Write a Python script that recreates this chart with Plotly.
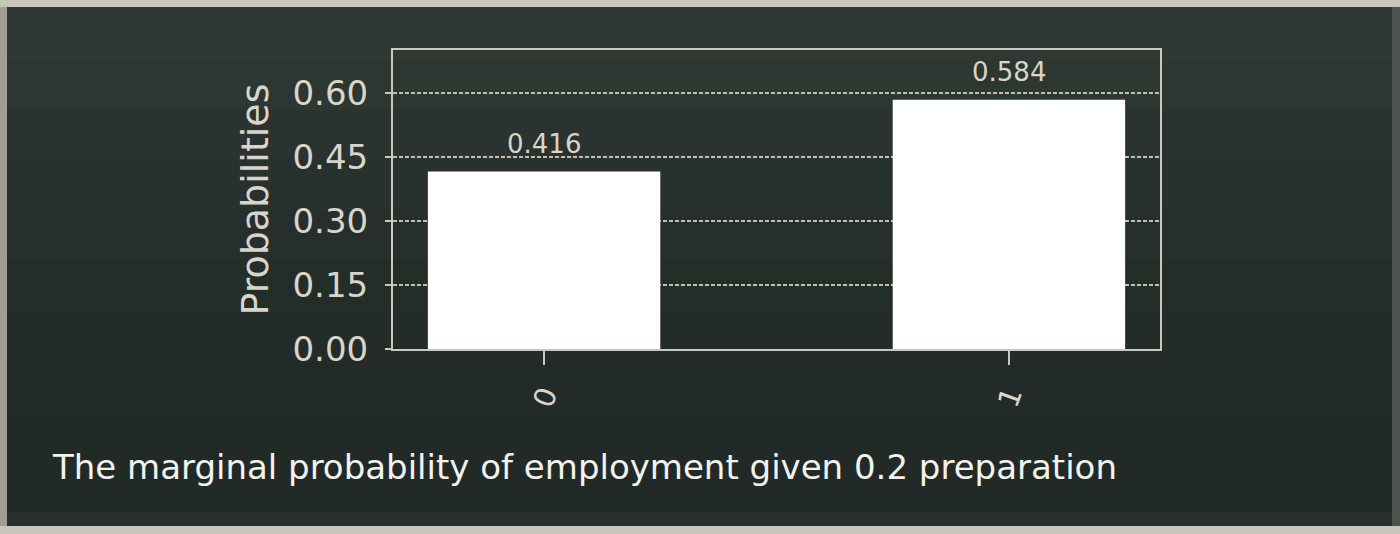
import plotly.graph_objects as go

# ---- data ----
categories = ["0", "1"]
probabilities = [0.416, 0.584]
bar_labels = ["0.416", "0.584"]
y_tick_values = [0.0, 0.15, 0.30, 0.45, 0.60]
y_tick_labels = ["0.00", "0.15", "0.30", "0.45", "0.60"]
y_axis_title = "Probabilities"
caption = "The marginal probability of employment given 0.2 preparation"

W, H = 1400, 534
L, R, T, B = 393, 240, 50, 185
PW, PH = W - L - R, H - T - B

def px_x(px):
    return (px - L) / PW

def px_y(py):
    return (H - B - py) / PH

TXT = "#d9d5ca"
LINE = "#cdc8bd"
FONT = "DejaVu Sans"

fig = go.Figure()
fig.add_trace(go.Bar(
    x=categories, y=probabilities, width=0.5,
    marker=dict(color="#ffffff", line=dict(width=0)),
    hoverinfo="skip",
))

annotations = []
for c, v, lab in zip(categories, probabilities, bar_labels):
    annotations.append(dict(
        x=c, y=v, xref="x", yref="y", text=lab, showarrow=False,
        yanchor="bottom", yshift=11, font=dict(family=FONT, size=26, color=TXT),
    ))

annotations.append(dict(
    x=px_x(50), y=px_y(467), xref="paper", yref="paper", text=caption,
    showarrow=False, xanchor="left", yanchor="middle",
    font=dict(family=FONT, size=34, color="#f3f3ee"),
))

shapes = []
# chalkboard shading (lighter at the top)
bands = [
    (7, 60, 0.55), (60, 110, 0.45), (110, 160, 0.36), (160, 210, 0.28),
    (210, 260, 0.20), (260, 310, 0.14), (310, 360, 0.09), (360, 410, 0.05),
]
for y0, y1, op in bands:
    shapes.append(dict(type="rect", xref="paper", yref="paper", layer="below",
                       x0=px_x(0), x1=px_x(W), y0=px_y(y1), y1=px_y(y0),
                       fillcolor="#3a4640", opacity=op, line=dict(width=0)))
shapes.append(dict(type="rect", xref="paper", yref="paper", layer="below",
                   x0=px_x(0), x1=px_x(W), y0=px_y(526), y1=px_y(512),
                   fillcolor="#3a4640", opacity=0.2, line=dict(width=0)))
# frame strips
shapes += [
    dict(type="rect", xref="paper", yref="paper", layer="above",
         x0=px_x(0), x1=px_x(W), y0=px_y(7), y1=px_y(0),
         fillcolor="#c9c5bb", line=dict(width=0)),
    dict(type="rect", xref="paper", yref="paper", layer="above",
         x0=px_x(0), x1=px_x(W), y0=px_y(H), y1=px_y(526),
         fillcolor="#c9c5bc", line=dict(width=0)),
    dict(type="rect", xref="paper", yref="paper", layer="above",
         x0=px_x(0), x1=px_x(7), y0=px_y(526), y1=px_y(7),
         fillcolor="#a19d93", line=dict(width=0)),
    dict(type="rect", xref="paper", yref="paper", layer="above",
         x0=px_x(1392), x1=px_x(W), y0=px_y(526), y1=px_y(7),
         fillcolor="#4d544f", line=dict(width=0)),
]

fig.update_layout(
    width=W, height=H,
    margin=dict(l=L, r=R, t=T, b=B, autoexpand=False),
    paper_bgcolor="#212a26", plot_bgcolor="rgba(0,0,0,0)",
    showlegend=False, bargap=0.5,
    annotations=annotations, shapes=shapes,
    font=dict(family=FONT, color=TXT),
)
fig.update_xaxes(
    type="category", range=[-0.325, 1.325], tickangle=-70,
    tickfont=dict(family=FONT, size=29, color=TXT),
    ticks="outside", ticklen=14, tickwidth=2, tickcolor=LINE,
    ticklabelstandoff=2,
    showline=True, linecolor=LINE, linewidth=2, mirror=True,
    showgrid=False, zeroline=False, automargin=False,
)
fig.update_yaxes(
    range=[0, 0.7008], tickvals=y_tick_values, ticktext=y_tick_labels,
    tickfont=dict(family=FONT, size=34, color=TXT),
    ticks="outside", ticklen=6, tickwidth=2, tickcolor=LINE,
    ticklabelstandoff=10,
    showline=True, linecolor=LINE, linewidth=2, mirror=True,
    showgrid=True, gridcolor="#c4bfb3", gridwidth=2, griddash="4px,2px",
    zeroline=False, automargin=False,
    title=dict(text=y_axis_title, font=dict(family=FONT, size=38, color=TXT), standoff=12),
)

fig.write_html("out.html")
